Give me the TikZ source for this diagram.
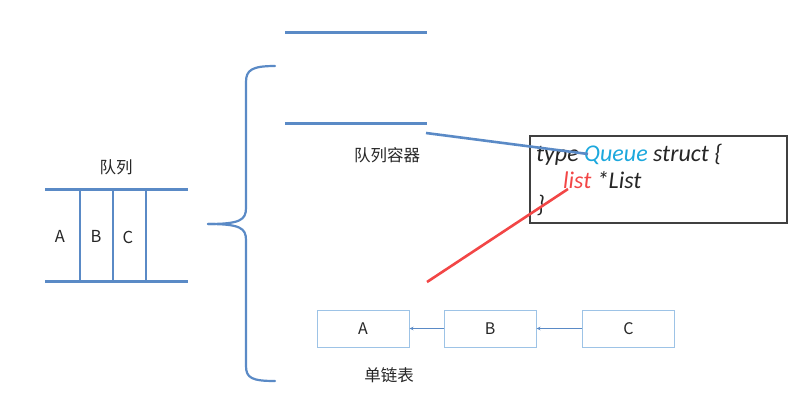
\documentclass[tikz,border=0pt]{standalone}
\usepackage{fontspec}
\setmainfont{Noto Sans CJK SC}
\newfontfamily\codefont{Carlito}
\usetikzlibrary{arrows.meta}
\usetikzlibrary{positioning}
\definecolor{qline}{HTML}{5A8AC6}
\definecolor{qcell}{HTML}{9DC3E6}
\definecolor{qink}{HTML}{262626}
\definecolor{qframe}{HTML}{404040}
\definecolor{qred}{HTML}{F24646}
\definecolor{qcyan}{HTML}{1CA8DD}
\tikzset{
  qbar/.style={draw=qline, line width=3pt},
  qsep/.style={draw=qline, line width=1.2pt},
  qlabel/.style={font=\fontsize{16.5}{18}\selectfont, text=qink},
  qnode/.style={
    draw=qcell, line width=1pt, minimum width=92pt, minimum height=37pt,
    inner sep=0pt, font=\fontsize{16}{18}\selectfont, text=qink},
  qarrow/.style={-{Stealth[length=4pt, width=3.5pt]}, draw=qline, line width=0.8pt},
  qbrace/.style={draw=qline, line width=2.2pt, line cap=round},
  qlink/.style={line width=2.6pt},
  qcode/.style={anchor=base west, inner sep=0pt, text=qink,
    font=\codefont\itshape\fontsize{24}{26}\selectfont},
  every picture/.style={line cap=butt},
}

\begin{document}
\begin{tikzpicture}[x=1pt, y=-1pt]
\useasboundingbox (0,0) rectangle (800,418);

% Queue drawn as a pipe.
\node[qlabel] (queue-title) at (116,167) {队列};
\draw[qbar] (45,189) -- (188,189);
\draw[qbar] (45,281) -- (188,281);
\foreach \x in {80,113,146}
  \draw[qsep] (\x,189) -- (\x,281);
\node[qlabel] (cell-a) at (60,236) {A};
\node[qlabel] (cell-b) at (96,236) {B};
\node[qlabel] (cell-c) at (128,237) {C};

% Brace.
\draw[qbrace] (275,66) .. controls (252,66) and (246,70) .. (246,82)
  -- (246,208) .. controls (246,220) and (240,224) .. (208,224);
\draw[qbrace] (208,224) .. controls (240,224) and (246,228) .. (246,240)
  -- (246,366) .. controls (246,378) and (252,381) .. (275,381);

% Container.
\draw[qbar] (285,32) -- (427,32);
\draw[qbar] (285,123) -- (427,123);
\node[qlabel] (container) at (387,155) {队列容器};

% Go struct.
\node[draw=qframe, line width=1.4pt, minimum width=257pt, minimum height=87pt,
      inner sep=0pt] (code) at (658.5,179.5) {};
\node[qcode] (code-head) at (536,161)
  {type \textcolor{qcyan}{Queue} struct \{};
\node[qcode] (code-field) at (563,188)
  {\textcolor{qred}{list} *List};
\node[qcode] (code-tail) at (537,212) {\}};

% Links into the struct.
\coordinate (cont-end) at (426,133);
\coordinate (queue-word) at (588,154);
\coordinate (list-word) at (568,189);
\coordinate (list-end) at (427,282);
\draw[qlink, draw=qline] (cont-end) -- (queue-word);
\draw[qlink, draw=qred] (list-word) -- (list-end);

% Linked list.
\node[qnode] (node-a) at (363,328.5) {A};
\node[qnode] (node-b) at (490,328.5) {B};
\node[qnode] (node-c) at (628.5,328.5) {C};
\draw[qarrow] (node-b) -- (node-a);
\draw[qarrow] (node-c) -- (node-b);
\node[qlabel] (list-title) at (389,375) {单链表};

\end{tikzpicture}
\end{document}
